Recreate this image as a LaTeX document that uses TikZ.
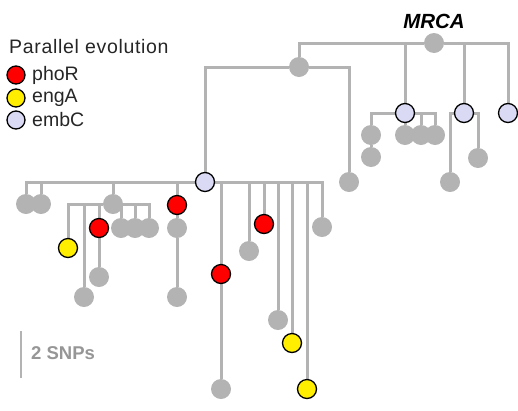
\documentclass[tikz,border=0pt]{standalone}
\usepackage{fontspec}
\setmainfont{Liberation Sans}
\definecolor{lgray}{RGB}{179,179,179}
\definecolor{tgray}{RGB}{150,150,150}
\definecolor{embc}{RGB}{218,218,245}
\definecolor{phor}{RGB}{255,0,0}
\definecolor{enga}{RGB}{255,238,0}
\pgfdeclarelayer{edges}
\pgfsetlayers{edges,main}
\tikzset{
  gn/.style={circle,fill=lgray,inner sep=0pt,minimum size=20pt},
  cn/.style={circle,draw=black,line width=1.3pt,inner sep=0pt,minimum size=19pt},
  rn/.style={cn,fill=phor},
  yn/.style={cn,fill=enga},
  en/.style={cn,fill=embc},
  br/.style={draw=lgray,line width=3pt},
  txt/.style={font=\fontsize{19.5}{22}\selectfont,inner sep=0pt}
}
\begin{document}
\begin{tikzpicture}[x=1pt,y=-1pt]
\useasboundingbox (0,0) rectangle (518,410);
% nodes
\node[gn] (mrca) at (434,43) {};
\node[gn] (n1) at (299,67) {};
\node[gn] (g349) at (349,182) {};
\node[en] (e1) at (405,113) {};
\node[en] (e2) at (464,113) {};
\node[en] (e3) at (508,113) {};
\node[gn] (a1) at (371,135) {};
\node[gn] (a2) at (371,157) {};
\node[gn] (b1) at (405,135) {};
\node[gn] (b2) at (421,135) {};
\node[gn] (b3) at (435,135) {};
\node[gn] (c1) at (450,182) {};
\node[gn] (c2) at (478,158) {};
\node[en] (e0) at (205,182) {};
\node[gn] (l1) at (26,204) {};
\node[gn] (l2) at (41,204) {};
\node[gn] (g113) at (113,204) {};
\node[rn] (r177) at (177,205) {};
\node[yn] (y68) at (68,248) {};
\node[gn] (g84) at (84,297) {};
\node[gn] (g121) at (121,228) {};
\node[gn] (g135) at (135,228) {};
\node[gn] (g149) at (149,228) {};
\node[rn] (r99) at (99,228) {};
\node[gn] (g99) at (99,277) {};
\node[gn] (g177a) at (177,228) {};
\node[gn] (g177b) at (177,297) {};
\node[rn] (r221) at (221,274) {};
\node[gn] (g221) at (221,389) {};
\node[gn] (g249) at (249,251) {};
\node[rn] (r264) at (264,224) {};
\node[gn] (g278) at (278,320) {};
\node[yn] (y292) at (292,343) {};
\node[yn] (y307) at (307,389) {};
\node[gn] (g322) at (322,227) {};
% edges
\begin{pgfonlayer}{edges}
\path[br] (mrca) -| (n1) (mrca) -| (e1) (mrca) -| (e2) (mrca) -| (e3);
\path[br] (n1) -| (e0) (n1) -| (g349);
\path[br] (e1) -| (a1) (a1) -- (a2) (e1) -- (b1) (e1) -| (b2) (e1) -| (b3);
\path[br] (e2) -| (c1) (e2) -| (c2);
\path[br] (e0) -| (l1) (e0) -| (l2) (e0) -| (g113) (e0) -| (r177);
\path[br] (e0) -| (r221) (e0) -| (g249) (e0) -| (r264) (e0) -| (g278)
          (e0) -| (y292) (e0) -| (y307) (e0) -| (g322);
\path[br] (r221) -- (g221);
\path[br] (g113) -| (y68) (g113) -| (g84) (g113) -| (r99) (g113) -| (g121)
          (g113) -| (g135) (g113) -| (g149);
\path[br] (r99) -- (g99);
\path[br] (r177) -- (g177a) -- (g177b);
\end{pgfonlayer}
% labels
\node[txt,font=\fontsize{20.5}{22}\selectfont\bfseries\itshape] (mrcalab) at (434,21) {MRCA};
\node[txt,anchor=west,text=black!85,font=\fontsize{19.5}{22}\selectfont\addfontfeature{LetterSpace=3.5}] (legt) at (9,47) {Parallel evolution};
\node[rn,minimum size=18pt] (lr) at (16,75) {};
\node[yn,minimum size=18pt] (ly) at (16,98) {};
\node[en,minimum size=18pt] (le) at (16,120) {};
\node[txt,anchor=west,text=black!85] (lrt) at (32,75) {phoR};
\node[txt,anchor=west,text=black!85] (lyt) at (32,98) {engA};
\node[txt,anchor=west,text=black!85] (let) at (32,120) {embC};
% scale bar
\coordinate (sb1) at (21,331);
\coordinate (sb2) at (21,378);
\draw[lgray,line width=2.5pt] (sb1) -- (sb2);
\node[txt,anchor=west,text=tgray,font=\fontsize{18.5}{22}\selectfont\bfseries] (sbt) at (31,353) {2 SNPs};
\end{tikzpicture}
\end{document}
